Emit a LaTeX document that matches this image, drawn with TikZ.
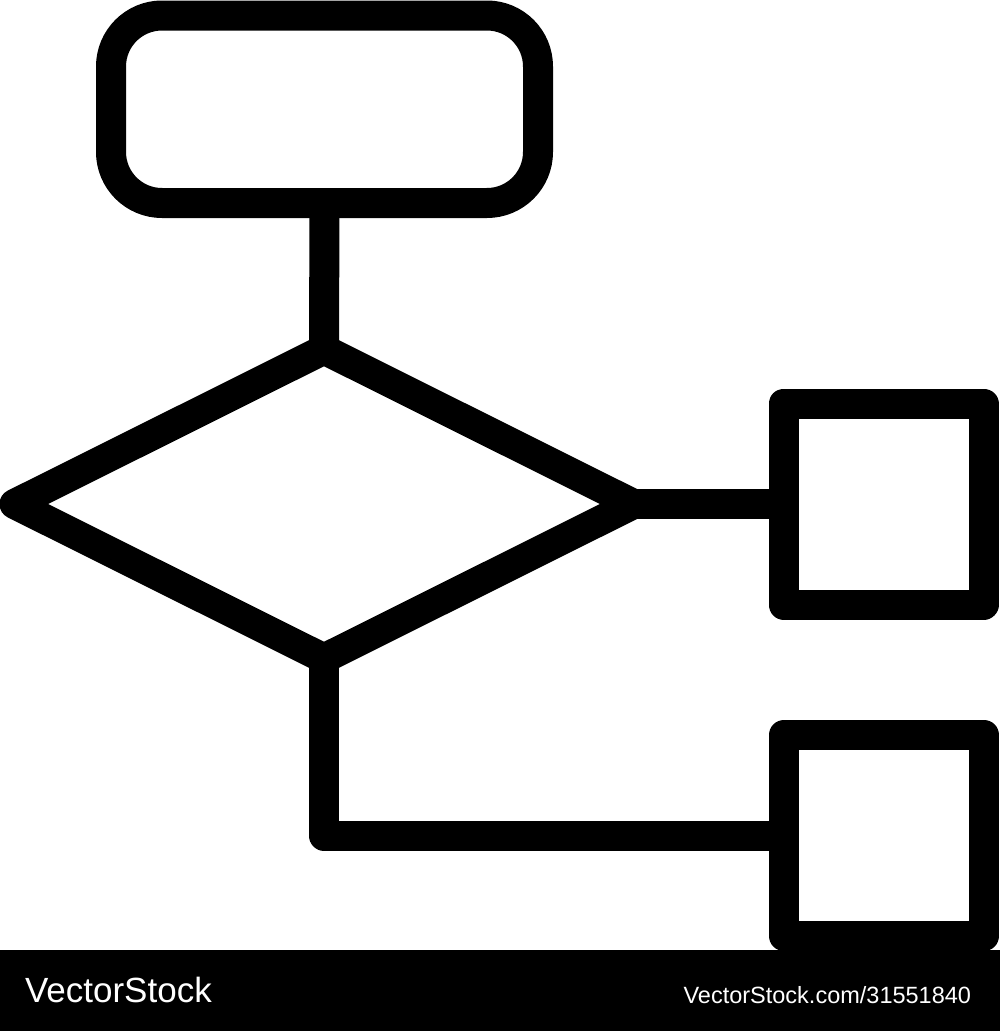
\documentclass[tikz,border=0pt]{standalone}
\usepackage{fontspec}
\setmainfont{Liberation Sans}
\usetikzlibrary{shapes.geometric}
\begin{document}
\begin{tikzpicture}[x=1pt,y=-1pt,
  shapeline/.style={draw=black,line width=30pt,line join=round,inner sep=0pt,outer sep=0pt},
  conn/.style={draw=black,line width=30pt,line join=round},
  boxshape/.style={shapeline,rectangle,minimum width=200pt,minimum height=201pt},
  wmark/.style={text=white,inner sep=0pt,outer sep=0pt}]
\useasboundingbox (0,0) rectangle (1000,1031);
\node[shapeline,rectangle,rounded corners=51pt,minimum width=427pt,minimum height=187.5pt] (start) at (324.5,109.25) {};
\node[shapeline,diamond,aspect=2,minimum width=619pt,minimum height=309pt] (dec) at (324,504) {};
\node[boxshape] (yes) at (883.5,504) {};
\node[boxshape] (no) at (884,835.5) {};
\draw[conn] (start.south) -- (dec.north);
\draw[conn] (dec.east) -- (yes.west);
\draw[conn] (dec.south) |- (no.west);
\node[fill=black,draw=none,inner sep=0pt,outer sep=0pt,minimum width=1000pt,minimum height=81pt,anchor=north west] (bar) at (0,950) {};
\node[wmark,anchor=base west] (brand) at (25,1002) {\fontsize{35pt}{40pt}\selectfont VectorStock};
\node[wmark,anchor=base east] (url) at (971,1003) {\fontsize{23.5pt}{28pt}\selectfont VectorStock.com/31551840};
\end{tikzpicture}
\end{document}
